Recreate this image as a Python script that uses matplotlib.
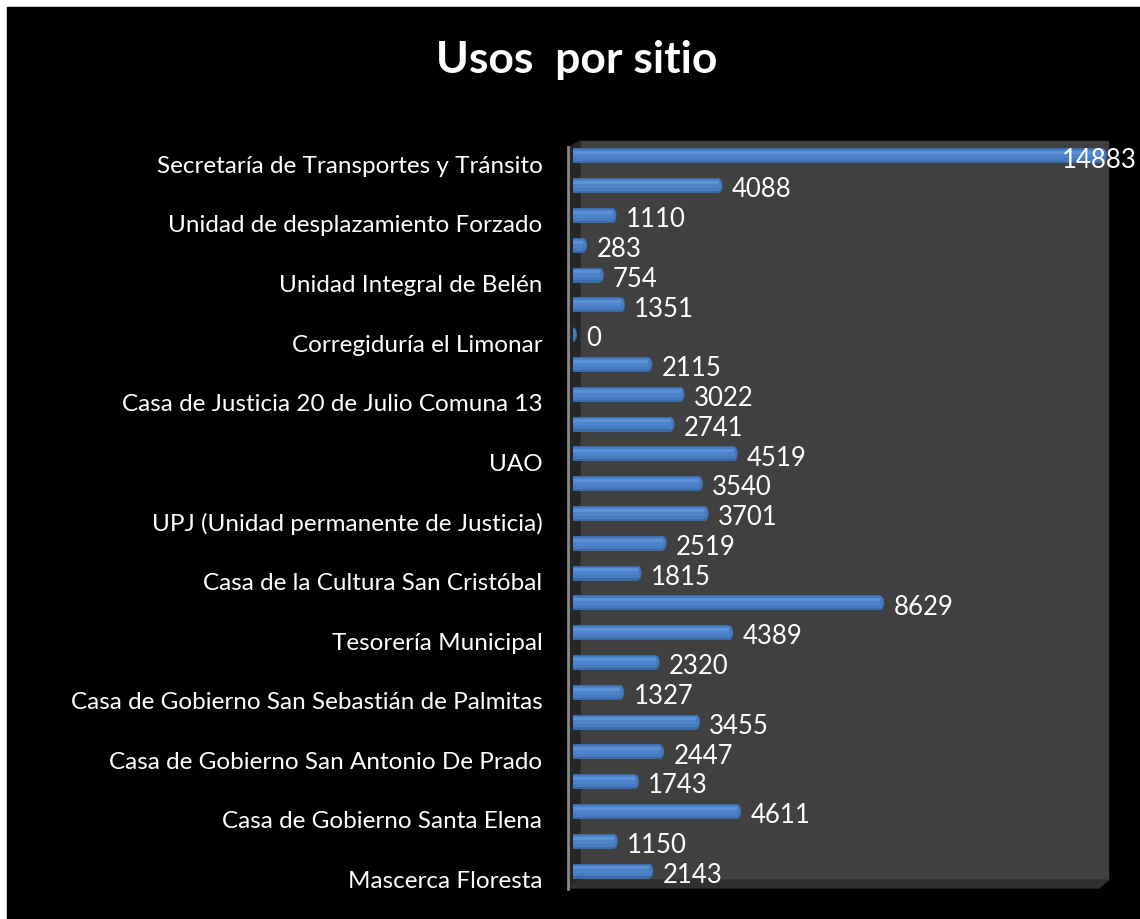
import matplotlib

matplotlib.use("Agg")
import matplotlib.pyplot as plt
import matplotlib.transforms as mtransforms
from matplotlib.patches import Ellipse, Polygon, Rectangle
from matplotlib.lines import Line2D
import numpy as np

W, H = 1140, 919

sites = [
    "Secretaría de Transportes y Tránsito", "",
    "Unidad de desplazamiento Forzado", "",
    "Unidad Integral de Belén", "",
    "Corregiduría el Limonar", "",
    "Casa de Justicia 20 de Julio Comuna 13", "",
    "UAO", "",
    "UPJ (Unidad permanente de Justicia)", "",
    "Casa de la Cultura San Cristóbal", "",
    "Tesorería Municipal", "",
    "Casa de Gobierno San Sebastián de Palmitas", "",
    "Casa de Gobierno San Antonio De Prado", "",
    "Casa de Gobierno Santa Elena", "",
    "Mascerca Floresta",
]
usos = [14883, 4088, 1110, 283, 754, 1351, 0, 2115, 3022, 2741, 4519, 3540, 3701,
        2519, 1815, 8629, 4389, 2320, 1327, 3455, 2447, 1743, 4611, 1150, 2143]

plt.rcParams["font.family"] = ["Lato", "DejaVu Sans"]


def px(x, y):
    return (x / W, 1 - y / H)


fig = plt.figure(figsize=(W / 100, H / 100), dpi=100, facecolor="white")
tf = fig.transFigure

# black slide background (white strip left/top)
fig.patches.append(Rectangle(px(7, H), (W - 7) / W, (H - 7) / H,
                             transform=tf, color="black", zorder=0))

# 3D plot box: back wall, left wall, floor
fig.patches.append(Rectangle(px(580, 880), (1108 - 580) / W, (880 - 141) / H,
                             transform=tf, color="#404040", zorder=1))
fig.patches.append(Polygon([px(569, 147), px(580, 141), px(580, 880), px(569, 888)],
                           closed=True, transform=tf, color="#262626", zorder=1))
fig.patches.append(Polygon([px(569, 888), px(580, 880), px(1108, 880), px(1099, 888)],
                           closed=True, transform=tf, color="#303030", zorder=1))
fig.lines.append(Line2D([568 / W, 568 / W], [1 - 147 / H, 1 - 889 / H],
                        transform=tf, color="#8a8a8a", lw=2, zorder=1.5))

x0, x1, y0, y1 = 573, 1108, 141, 886
ax = fig.add_axes([x0 / W, 1 - y1 / H, (x1 - x0) / W, (y1 - y0) / H])
ax.patch.set_visible(False)
ax.set_zorder(2)

xmax = 15030
y = np.arange(len(usos))
cap_w = 8 / (x1 - x0) * xmax
# rounded ends (drawn first so the bar body covers their inner half)
for yi, v in zip(y, usos):
    ax.add_patch(Ellipse((v, yi), cap_w, 0.5, color="#3a6aa8", lw=0, zorder=2.9))
    ax.add_patch(Ellipse((v, yi - 0.02), cap_w * 0.8, 0.4, color="#467bbf", lw=0, zorder=2.95))
# cylinder-like shading: dark base, mid body, light top highlight
ax.barh(y, usos, height=0.5, color="#3a6aa8", lw=0, zorder=3)
ax.barh(y - 0.02, usos, height=0.4, color="#467bbf", lw=0, zorder=3.1)
ax.barh(y - 0.05, usos, height=0.26, color="#4d83c9", lw=0, zorder=3.2)
ax.barh(y - 0.11, usos, height=0.1, color="#5b91d6", lw=0, zorder=3.3)

ax.set_xlim(0, xmax)
ax.set_ylim(len(usos) - 0.5, -0.5)

for yi, v in zip(y, usos):
    v_px = x0 + v / xmax * (x1 - x0)
    if v_px + 75 > W:
        ax.annotate(f"{v}", (1.0, yi), xycoords=("figure fraction", "data"),
                    xytext=(-2, -3), textcoords="offset points", ha="right", va="center",
                    color="white", fontsize=18.5, zorder=5, annotation_clip=False)
    else:
        ax.annotate(f"{v}", (v, yi), xytext=(9.5, -3), textcoords="offset points",
                    ha="left", va="center", color="white", fontsize=18.5, zorder=5,
                    annotation_clip=False)

ax.set_yticks(y)
ax.set_yticklabels(sites, color="white", fontsize=17.5)
ax.tick_params(axis="y", length=0, pad=22)
ax.set_xticks([])
offset = mtransforms.ScaledTranslation(0, -6 / 72, fig.dpi_scale_trans)
for lab in ax.get_yticklabels():
    lab.set_transform(lab.get_transform() + offset)

for s in ax.spines.values():
    s.set_visible(False)

fig.text(577 / W, 1 - 60 / H, "Usos  por sitio", ha="center", va="center",
         color="white", fontsize=32, fontweight="bold")

fig.savefig("out.png", dpi=100, facecolor="white")
